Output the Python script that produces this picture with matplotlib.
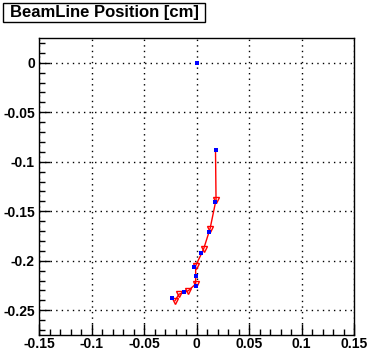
import matplotlib
matplotlib.use("Agg")
import matplotlib.pyplot as plt
from matplotlib.patches import Rectangle
from matplotlib.ticker import MultipleLocator, FuncFormatter

# blue points (beam line positions)
blue_x = [0.0, 0.0181, 0.0179, 0.0122, 0.0043, -0.0021, -0.0008, -0.0008, -0.0119, -0.0230]
blue_y = [0.0, -0.0879, -0.1404, -0.1707, -0.1922, -0.2068, -0.2152, -0.2260, -0.2316, -0.2372]

# red track (starts at second blue point)
red_x = [0.0181, 0.0186, 0.0129, 0.0067, -0.0008, -0.0008, -0.0078, -0.0167, -0.0205]
red_y = [-0.0879, -0.1384, -0.1677, -0.1884, -0.2051, -0.2235, -0.2303, -0.2338, -0.2404]

plt.rcParams['font.family'] = ['Liberation Sans', 'DejaVu Sans']

fig = plt.figure(figsize=(3.7, 3.5), dpi=100)
ax = fig.add_axes([39/370, 15/350, 315/370, 297/350])

ax.plot(red_x, red_y, '-', color='red', lw=1.0, marker='v', mfc='none', mec='red',
        ms=5, mew=1.0, markevery=list(range(1, len(red_x))), zorder=3)
ax.plot(blue_x, blue_y, 's', color='blue', ms=2.5, mew=0, zorder=4)

ax.set_xlim(-0.15, 0.15)
ax.set_ylim(-0.275, 0.025)
ax.xaxis.set_major_locator(MultipleLocator(0.05))
ax.xaxis.set_minor_locator(MultipleLocator(0.01))
ax.yaxis.set_major_locator(MultipleLocator(0.05))
ax.yaxis.set_minor_locator(MultipleLocator(0.01))
fmt = FuncFormatter(lambda v, p: '%g' % round(v, 3))
ax.xaxis.set_major_formatter(fmt)
ax.yaxis.set_major_formatter(fmt)

ax.grid(True, which='major', color='black', linestyle=(0, (1, 3)), lw=1.0)
ax.tick_params(which='both', direction='in', top=False, right=False, labelsize=10, width=1.0)
ax.tick_params(which='major', length=8)
ax.tick_params(which='minor', length=4)
ax.tick_params(axis='x', which='major', pad=1.5)
ax.tick_params(axis='y', which='major', pad=3)
for lab in ax.get_xticklabels() + ax.get_yticklabels():
    lab.set_fontweight('bold')
for s in ax.spines.values():
    s.set_linewidth(1.0)

# title box
fig.patches.append(Rectangle((3/370, 1 - 22/350), 202/370, 19/350, transform=fig.transFigure,
                             fc='white', ec='black', lw=1.0))
fig.text(104/370, 1 - 12.5/350, 'BeamLine Position [cm]', fontsize=12, fontweight='bold',
         va='center', ha='center')

fig.savefig('out.png', dpi=100)
